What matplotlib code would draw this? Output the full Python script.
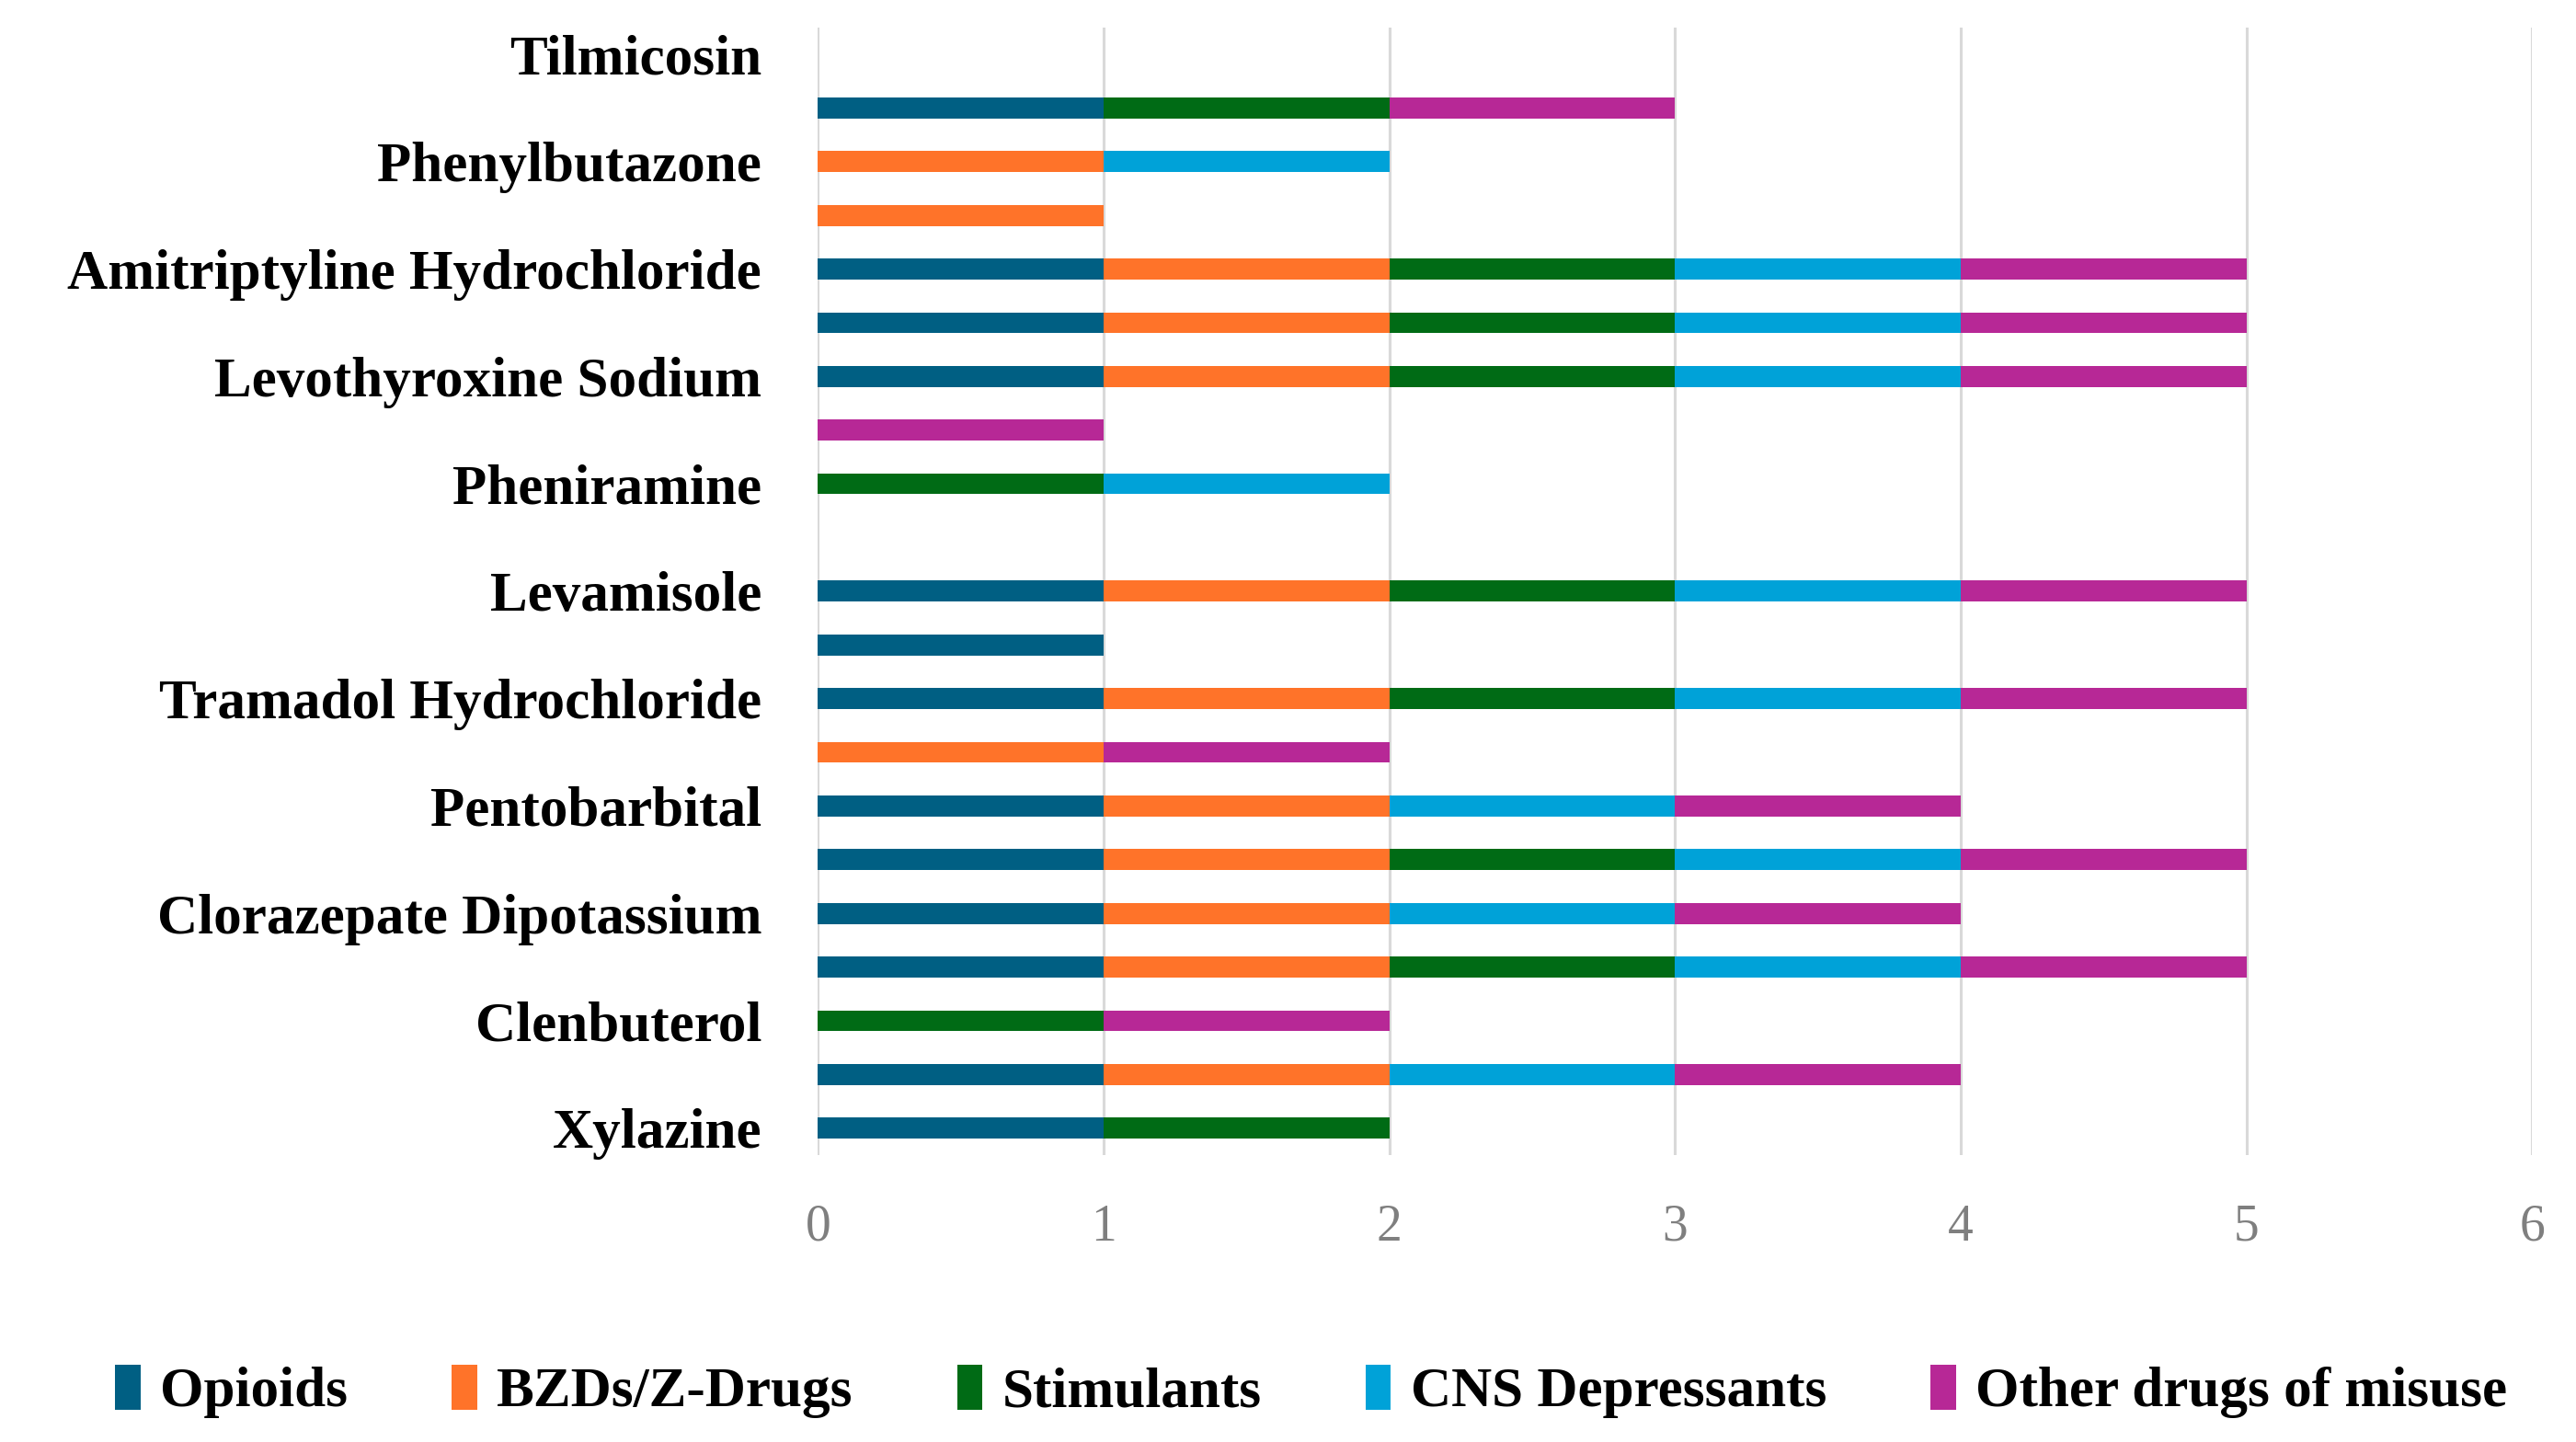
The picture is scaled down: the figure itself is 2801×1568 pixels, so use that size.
import numpy as np
import matplotlib
matplotlib.use("Agg")
import matplotlib.pyplot as plt

# rows from bottom to top; every other row has no visible label
drugs = ["Xylazine", "", "Clenbuterol", "", "Clorazepate Dipotassium", "",
         "Pentobarbital", "", "Tramadol Hydrochloride", "", "Levamisole", "",
         "Pheniramine", "", "Levothyroxine Sodium", "", "Amitriptyline Hydrochloride", "",
         "Phenylbutazone", "", "Tilmicosin"]

opioids     = [1, 1, 0, 1, 1, 1, 1, 0, 1, 1, 1, 0, 0, 0, 1, 1, 1, 0, 0, 1, 0]
bzds        = [0, 1, 0, 1, 1, 1, 1, 1, 1, 0, 1, 0, 0, 0, 1, 1, 1, 1, 1, 0, 0]
stimulants  = [1, 0, 1, 1, 0, 1, 0, 0, 1, 0, 1, 0, 1, 0, 1, 1, 1, 0, 0, 1, 0]
cns_dep     = [0, 1, 0, 1, 1, 1, 1, 0, 1, 0, 1, 0, 1, 0, 1, 1, 1, 0, 1, 0, 0]
other       = [0, 1, 1, 1, 1, 1, 1, 1, 1, 0, 1, 0, 0, 1, 1, 1, 1, 0, 0, 1, 0]

series_names = ["Opioids", "BZDs/Z-Drugs", "Stimulants", "CNS Depressants", "Other drugs of misuse"]
colors = ["#005f83", "#ff7329", "#006b15", "#00a2d8", "#b72896"]

serif = ["Liberation Serif", "DejaVu Serif"]

fig = plt.figure(figsize=(14.005, 7.84), dpi=200)
ax = fig.add_axes([0.3175, 0.199, 0.6655, 0.782])

y = np.arange(len(drugs))
left = np.zeros(len(drugs))
for name, vals, col in zip(series_names, [opioids, bzds, stimulants, cns_dep, other], colors):
    vals = np.array(vals, dtype=float)
    ax.barh(y, vals, left=left, height=0.39, color=col, label=name, zorder=3)
    left += vals

ax.set_xlim(0, 6)
ax.set_ylim(-0.5, len(drugs) - 0.5)
ax.set_xticks(range(7))
ax.set_yticks(y)
ax.set_yticklabels(drugs)
for lab in ax.get_yticklabels():
    lab.set_fontfamily(serif)
    lab.set_fontweight("bold")
    lab.set_fontsize(22)
for lab in ax.get_xticklabels():
    lab.set_fontfamily(serif)
    lab.set_fontsize(20)
    lab.set_color("#7f7f7f")
ax.tick_params(axis="y", length=0, pad=22)
ax.tick_params(axis="x", length=0, pad=19)
ax.grid(axis="x", color="#d9d9d9", linewidth=1.1, zorder=0)
for s in ax.spines.values():
    s.set_visible(False)

fig.legend(loc="center", bbox_to_anchor=(0.509, 0.035), ncol=5, frameon=False,
           prop={"family": serif, "weight": "bold", "size": 22},
           handlelength=0.45, handleheight=0.85, handletextpad=0.35, columnspacing=1.85)

fig.savefig("out.png", dpi=200)
